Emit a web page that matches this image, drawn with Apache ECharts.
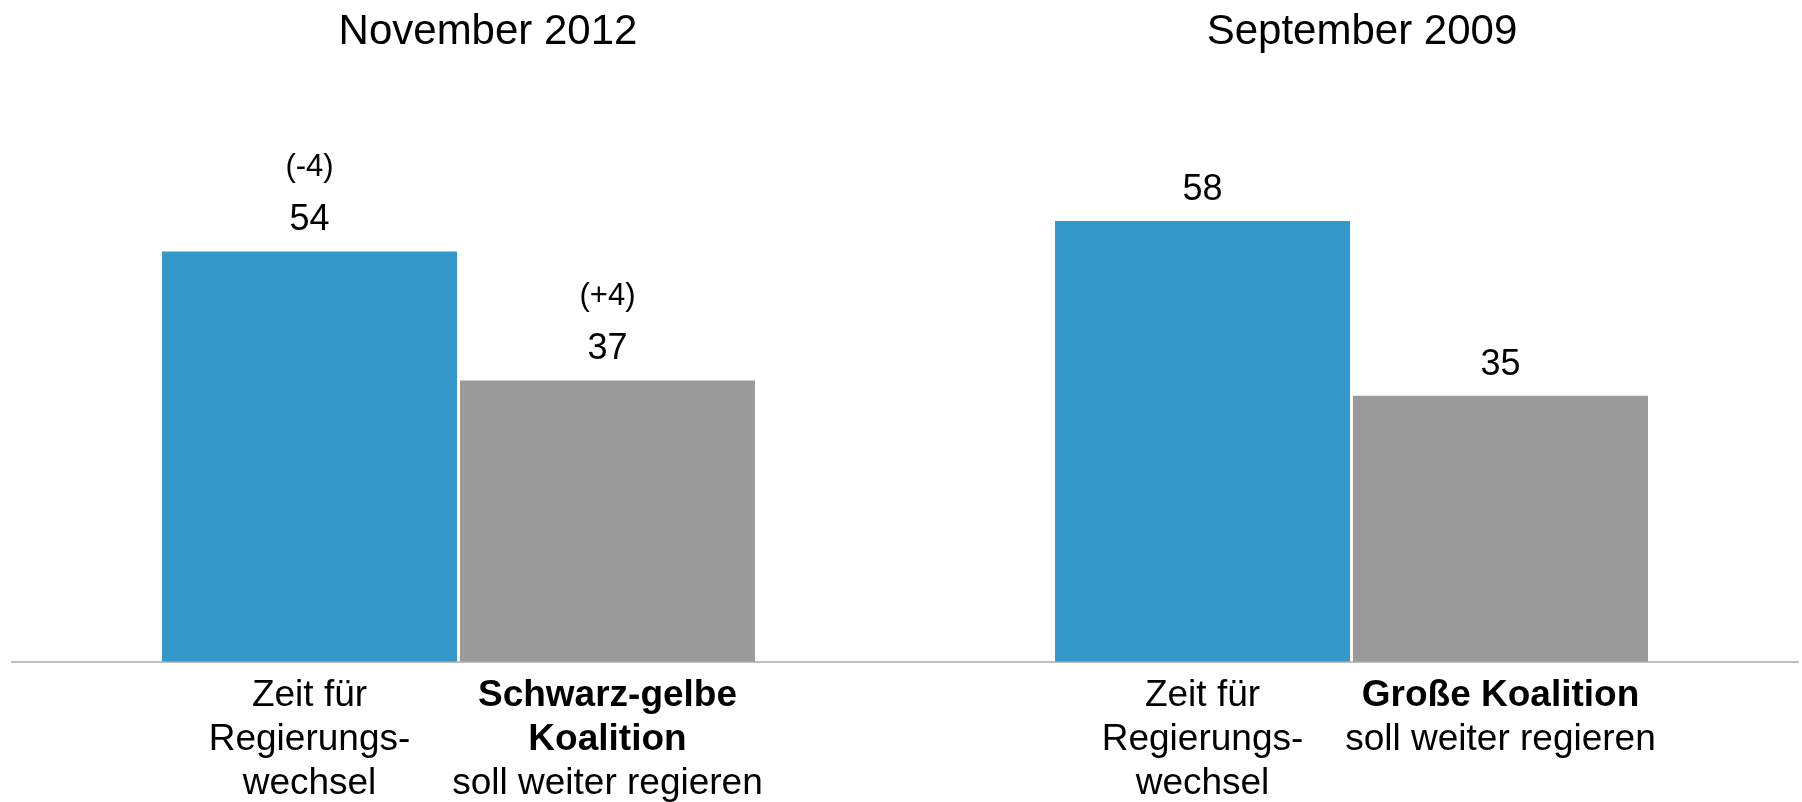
<!DOCTYPE html>
<html>
<head>
<meta charset="utf-8">
<script src="https://cdn.jsdelivr.net/npm/echarts@6/dist/echarts.min.js"></script>
<style>
    html, body { margin: 0; padding: 0; background: #fff; }
    #chart { width: 1802px; height: 802px; }
</style>
</head>
<body>
<div id="chart"></div>
<script>
// survey data
const periods = ['November 2012', 'September 2009'];
const wechselValues = [54, 58];
const weiterValues = [37, 35];
const wechselChange = ['(-4)', ''];
const weiterChange = ['(+4)', ''];
const wechselLines = ['Zeit für', 'Regierungs-', 'wechsel'];
const coalitionLines = [['Schwarz-gelbe', 'Koalition'], ['Große Koalition']];
const weiterSuffix = 'soll weiter regieren';

const FONT = "'Liberation Sans', Arial, sans-serif";
const COL_W = 298;

document.addEventListener("DOMContentLoaded", function () {
    const chart = echarts.init(document.getElementById('chart'), null, { renderer: 'canvas' });

    // one rich text block per period: left column = wechsel, right column = coalition
    function categoryLabel(value, index) {
        let right = coalitionLines[index].map(s => `{b|${s}}`);
        right.push(`{r|${weiterSuffix}}`);
        let lines = [];
        for (let i = 0; i < 3; i++) {
            let l = wechselLines[i] ? `{r|${wechselLines[i]}}` : '{r| }';
            let r = right[i] || '{r| }';
            lines.push(l + r);
        }
        return lines.join('\n');
    }

    function valueLabel(changes) {
        return function (p) {
            let c = changes[p.dataIndex];
            if (c) {
                return `{d|${c}}\n{v|${p.value}}`;
            }
            return `{v|${p.value}}`;
        };
    }

    const valueRich = {
        d: { fontFamily: FONT, fontSize: 31, color: '#000', lineHeight: 66 },
        v: { fontFamily: FONT, fontSize: 36, color: '#000', lineHeight: 40 },
    };

    const titleX = [488, 1362];

    let option = {
        animation: false,
        backgroundColor: '#ffffff',
        title: periods.map((p, i) => ({
            text: p,
            left: titleX[i],
            top: 8,
            padding: 0,
            textAlign: 'center',
            textStyle: {
                fontFamily: FONT,
                fontSize: 42,
                fontWeight: 'normal',
                color: '#000',
                lineHeight: 48,
            },
        })),
        grid: {
            left: 12,
            right: 4,
            top: 130,
            bottom: 139,
            containLabel: false,
        },
        xAxis: {
            type: 'category',
            data: periods,
            axisLine: { lineStyle: { color: '#bdbdbd', width: 2 } },
            axisTick: { show: false },
            axisLabel: {
                margin: 12,
                interval: 0,
                formatter: categoryLabel,
                rich: {
                    r: { fontFamily: FONT, fontSize: 37, color: '#000', width: COL_W, align: 'center', lineHeight: 44 },
                    b: { fontFamily: FONT, fontSize: 37, color: '#000', width: COL_W, align: 'center', lineHeight: 44, fontWeight: 'bold' },
                },
            },
        },
        yAxis: {
            type: 'value',
            min: 0,
            max: 70,
            show: false,
            splitLine: { show: false },
        },
        series: [
            {
                type: 'bar',
                name: 'wechsel',
                data: wechselValues,
                barWidth: 295,
                barGap: '1%',
                itemStyle: { color: '#3598cb' },
                label: {
                    show: true,
                    position: 'top',
                    distance: 11,
                    formatter: valueLabel(wechselChange),
                    rich: valueRich,
                },
            },
            {
                type: 'bar',
                name: 'weiter',
                data: weiterValues,
                barWidth: 295,
                barGap: '1%',
                itemStyle: { color: '#9a9a9a' },
                label: {
                    show: true,
                    position: 'top',
                    distance: 11,
                    formatter: valueLabel(weiterChange),
                    rich: valueRich,
                },
            },
        ],
    };
    chart.setOption(option);
});
</script>
</body>
</html>
